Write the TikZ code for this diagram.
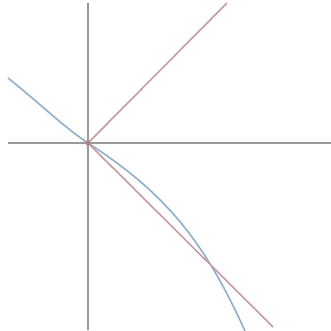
\documentclass[tikz,border=0pt]{standalone}
\definecolor{axisgray}{HTML}{9A9A9A}
\definecolor{curveblue}{HTML}{8DAFCB}
\definecolor{linered}{HTML}{C99AA4}
\begin{document}
\begin{tikzpicture}[x=1pt,y=1pt]
        \useasboundingbox (-88,-187) rectangle (243,143);
        \coordinate (O) at (0,0);
        \coordinate (top) at (0,140);
        \coordinate (bottom) at (0,-187);
        \coordinate (left) at (-80,0);
        \coordinate (right) at (243,0);
        \draw[axisgray,line width=1.5pt] (bottom) -- (top);
        \draw[axisgray,line width=1.5pt] (left) -- (right);
        \coordinate (curvestart) at (-80,65);
        \coordinate (curveend) at (157,-188);
        \draw[curveblue,line width=1.6pt] (curvestart)
            .. controls (-45,37) and (-25,16.5) .. (O)
            .. controls (75,-48.75) and (115,-95) .. (curveend);
        \coordinate (upend) at (139,140);
        \coordinate (downend) at (185,-184);
        \draw[linered,line width=1.6pt] (O) -- (upend);
        \draw[linered,line width=1.6pt] (O) -- (downend);
        \fill[linered!85!black] (O) circle (2.5pt);
    \end{tikzpicture}
\end{document}
